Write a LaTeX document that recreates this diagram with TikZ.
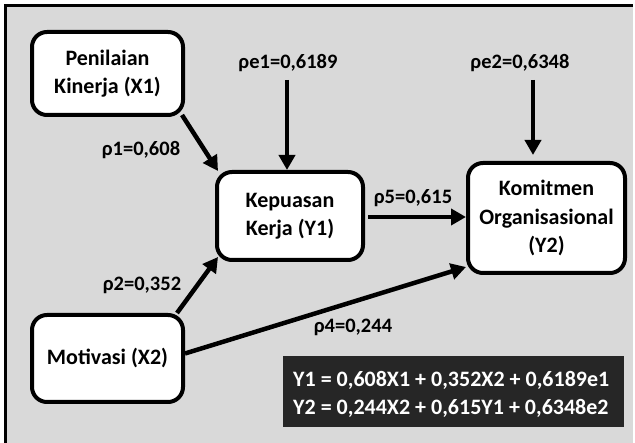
\documentclass[tikz,border=0pt]{standalone}
\usepackage{fontspec}
\setmainfont{Carlito}
\usetikzlibrary{arrows.meta,calc}
\definecolor{panel}{HTML}{D9D9D9}
\definecolor{eqfill}{HTML}{262626}
\tikzset{
  varbox/.style={draw=black, line width=4pt, fill=white, rounded corners=15pt,
    align=center, font=\bfseries\fontsize{22}{28.5}\selectfont, inner sep=0pt},
  coef/.style={font=\bfseries\fontsize{20.5}{24}\selectfont, inner sep=0pt},
  path/.style={line width=4.5pt, -{Triangle[length=15pt,width=16pt]}},
}
\begin{document}
\begin{tikzpicture}[x=1pt,y=-1pt]
  \useasboundingbox (0,0) rectangle (635,443);
  \fill[white] (0,0) rectangle (635,443);
  \fill[panel] (5,4) rectangle (633,443);
  \draw[line width=3pt] (5.5,443) -- (5.5,5.5) -- (633,5.5);

  % variables
  \node[varbox, minimum width=151pt, minimum height=83pt] (x1) at (107.5,73.5)
    {Penilaian\\Kinerja (X1)};
  \node[varbox, minimum width=151pt, minimum height=87pt] (x2) at (107.5,358.5)
    {Motivasi (X2)};
  \node[varbox, minimum width=146pt, minimum height=88pt] (y1) at (290,216)
    {Kepuasan\\Kerja (Y1)};
  \node[varbox, minimum width=157pt, minimum height=110pt] (y2) at (546.5,218)
    {Komitmen\\Organisasional\\(Y2)};

  % error terms
  \node[coef] (e1lab) at (288,63) {ρe1=0,6189};
  \node[coef] (e2lab) at (520,63) {ρe2=0,6348};
  \coordinate (e1top) at (287,80);
  \coordinate (e2top) at (533,80);

  % path coefficients
  \node[coef] (p1) at (141,150) {ρ1=0,608};
  \node[coef] (p2) at (142,285) {ρ2=0,352};
  \node[coef] (p5) at (413,198) {ρ5=0,615};
  \node[coef] (p4) at (353,327) {ρ4=0,244};

  % paths
  \draw[path] ([xshift=-3pt,yshift=2pt]x1.south east) -- ([xshift=3pt,yshift=-1pt]y1.north west);
  \draw[path] ([xshift=-8pt]x2.north east) -- ([xshift=3pt,yshift=5pt]y1.south west);
  \draw[path] ([yshift=5pt]x2.east) -- ([yshift=8pt]y2.south west);
  \draw[path] ([xshift=3pt,yshift=-1pt]y1.east) -- ([yshift=-1pt]y1.east -| y2.west);
  \draw[path] (e1top) -- (e1top |- y1.north);
  \draw[path] (e2top) -- ([yshift=6pt]e2top |- y2.north);

  % structural equations
  \fill[eqfill] (283,356) rectangle (624,427);
  \node[anchor=west, text=white, align=left, inner sep=0pt,
        font=\bfseries\fontsize{22}{28}\selectfont] (eq) at (293,394)
    {Y1 = 0,608X1 + 0,352X2 + 0,6189e1\\Y2 = 0,244X2 + 0,615Y1 + 0,6348e2};
\end{tikzpicture}
\end{document}
